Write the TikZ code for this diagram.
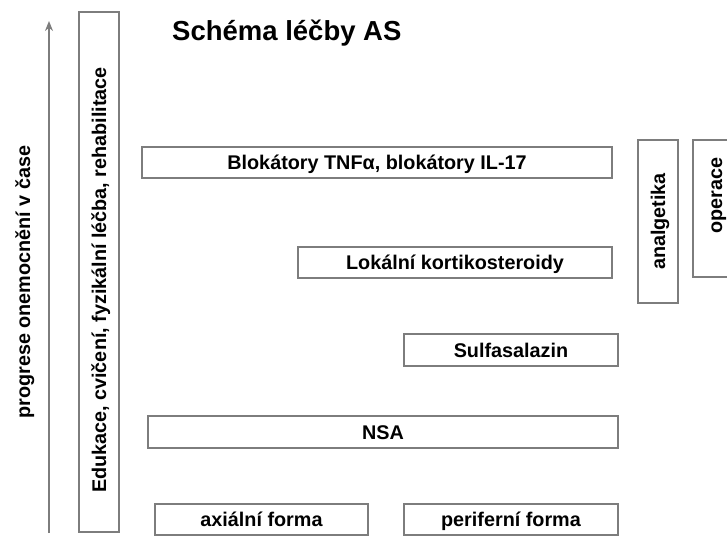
\documentclass[tikz,border=0pt]{standalone}
\usepackage{fontspec}
\setmainfont{Liberation Sans}
\usepackage{tikz}
\usetikzlibrary{arrows.meta}
\definecolor{linegray}{RGB}{125,125,125}

\tikzset{
	lecba/.style={draw=linegray, line width=1.2pt, inner sep=0pt, fill=white,
		text height=14pt, text depth=0pt,
		font=\fontsize{19.8}{23}\selectfont\bfseries},
	svisle/.style={lecba, rotate=90}
}

\begin{document}
\begin{tikzpicture}[x=1pt,y=-1pt]
\useasboundingbox (0,0) rectangle (727,539);
\clip (0,0) rectangle (727,539);
%nadpis
\node[anchor=base west, inner sep=0pt, font=\fontsize{27.5}{30}\selectfont\bfseries] (nadpis) at (172,40) {Schéma léčby AS};
%osa casu
\coordinate (osa-dole) at (49,533);
\coordinate (osa-nahore) at (49,21);
\draw[-{Stealth[length=10pt,width=8pt]}, linegray, line width=1.2pt] (osa-dole) -- (osa-nahore);
\node[rotate=90, inner sep=0pt, text height=14pt, text depth=0pt, font=\fontsize{19.8}{23}\selectfont\bfseries] (progrese) at (23,282) {progrese onemocnění v čase};
%lecba
\node[svisle, minimum width=520pt, minimum height=40pt] (edukace) at (99,272) {Edukace, cvičení, fyzikální léčba, rehabilitace\hspace*{16pt}};
\node[lecba, minimum width=470pt, minimum height=31pt] (tnf) at (377,162.5) {Blokátory TNFα, blokátory IL-17};
\node[lecba, minimum width=314pt, minimum height=31pt] (kortiko) at (455,262.5) {Lokální kortikosteroidy};
\node[lecba, minimum width=214pt, minimum height=32pt] (sulfa) at (511,350) {Sulfasalazin};
\node[lecba, minimum width=470pt, minimum height=32pt] (nsa) at (383,432) {NSA};
\node[lecba, minimum width=213pt, minimum height=31pt] (axial) at (261.5,519.5) {axiální forma};
\node[lecba, minimum width=214pt, minimum height=31pt] (perif) at (511,519.5) {periferní forma};
\node[svisle, minimum width=163pt, minimum height=40pt] (analg) at (658,221.5) {analgetika};
\node[svisle, minimum width=137pt, minimum height=44pt] (operace) at (715,208.5) {\hspace*{26pt}operace};
\end{tikzpicture}
\end{document}
